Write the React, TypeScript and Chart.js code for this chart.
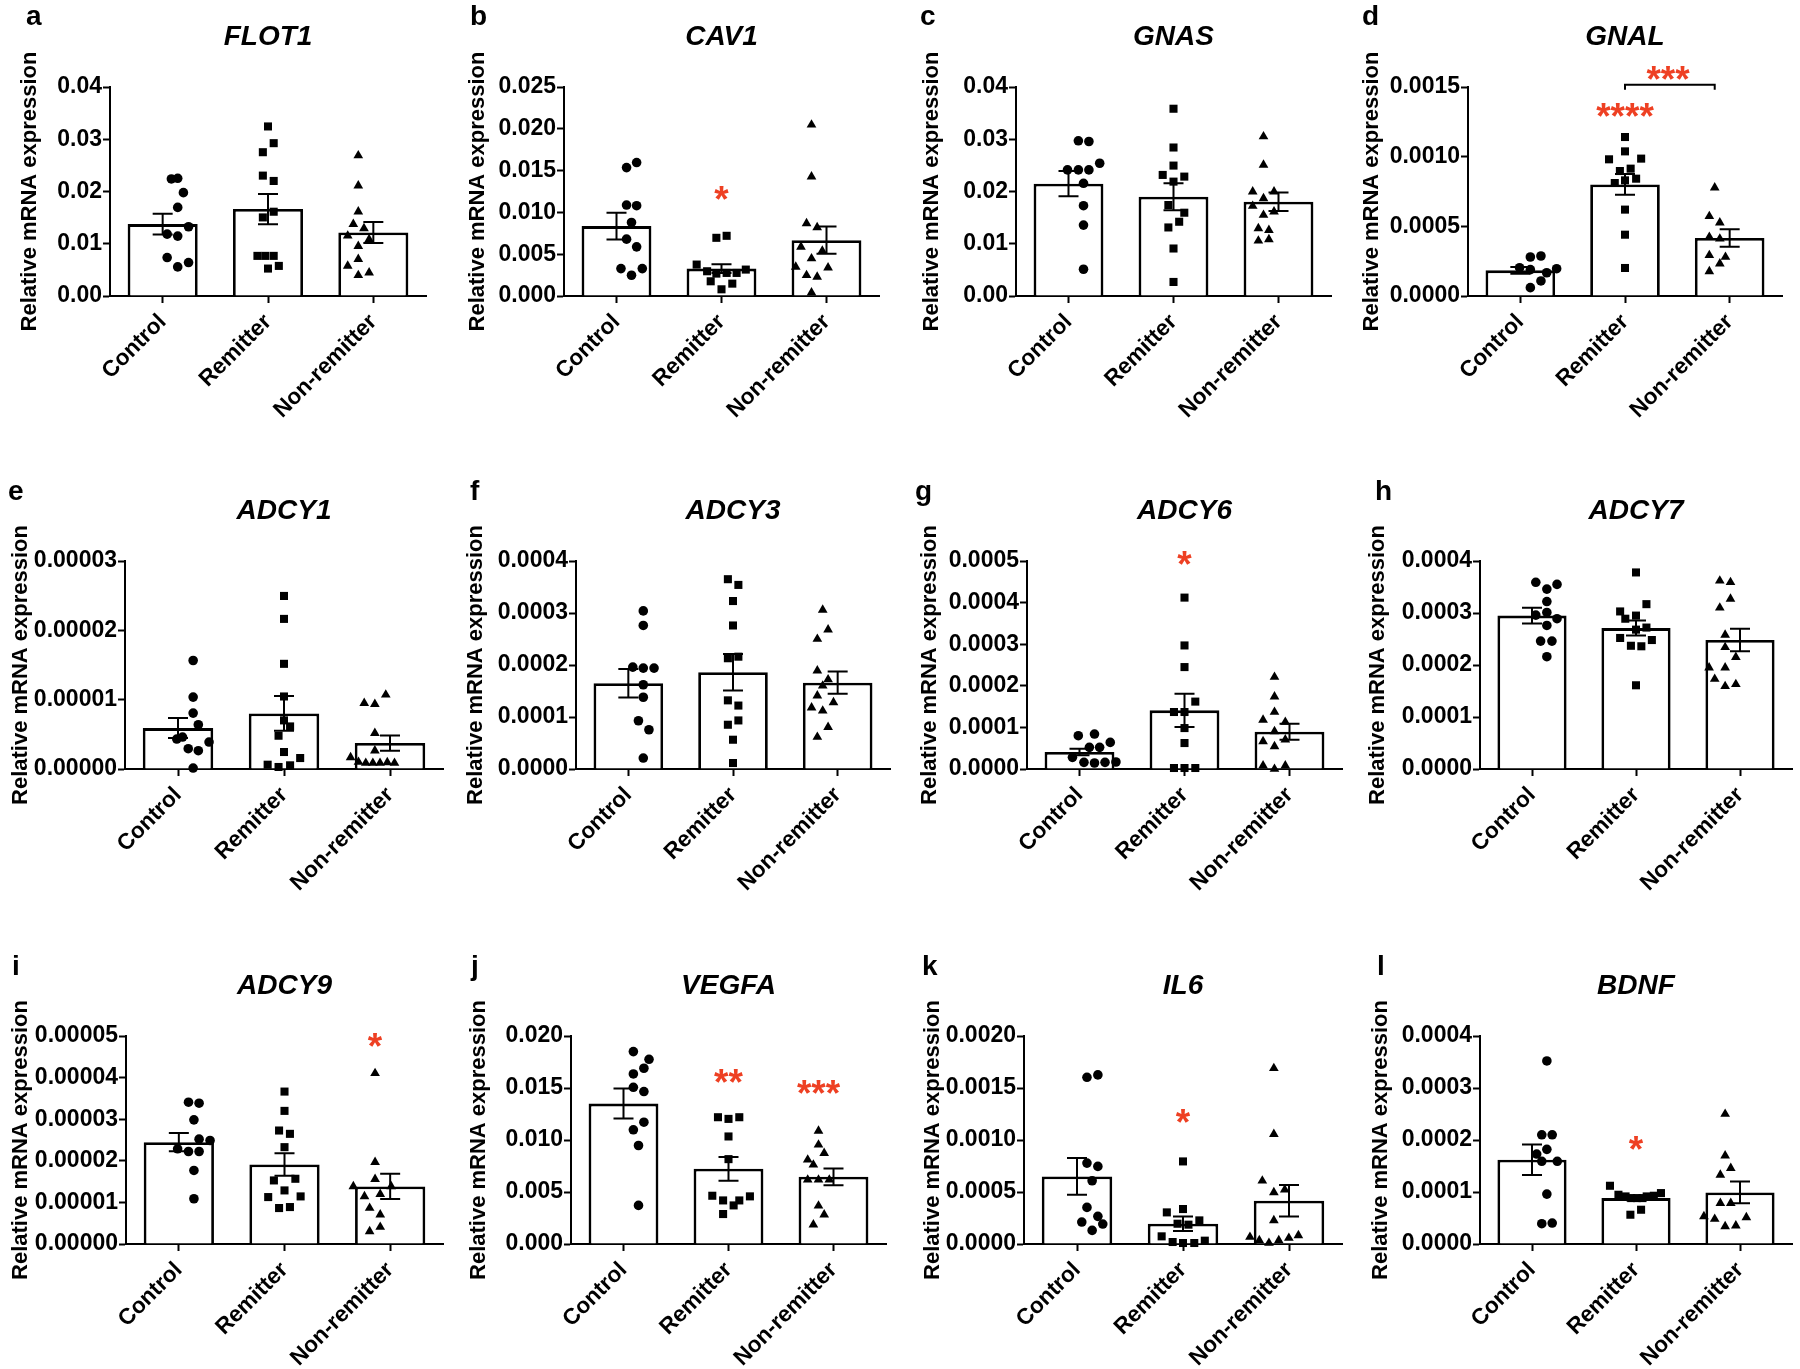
import React, { useEffect, useRef } from 'react';
import { Chart, registerables } from 'chart.js';

Chart.register(...registerables);

const FONT = "'Liberation Sans', Arial, Helvetica, sans-serif";
const RED = '#EE4023';
const GROUPS = ['Control', 'Remitter', 'Non-remitter'];
const Y_TITLE = 'Relative mRNA expression';

type Pt = [number, number]; // [horizontal jitter in category units, value]
type Mark = { x: number; y: number; text: string };

// ---------- a FLOT1 ----------
const FLOT1_TICKS = ['0.00', '0.01', '0.02', '0.03', '0.04'];
const FLOT1_MEAN = [0.01376, 0.01664, 0.01216];
const FLOT1_SEM = [0.002, 0.0029, 0.002];
const FLOT1_CONTROL: Pt[] = [[-0.07, 0.0224], [0, 0.02253], [0.063, 0.01978], [0, 0.01696], [-0.117, 0.01184], [0, 0.01146], [0.12, 0.01325], [-0.117, 0.00736], [0, 0.00557], [0.12, 0.0064]];
const FLOT1_REMITTER: Pt[] = [[0, 0.03245], [0.063, 0.02925], [-0.057, 0.02752], [-0.057, 0.02304], [0.063, 0.02202], [0.063, 0.01613], [-0.057, 0.01504], [-0.117, 0.00768], [-0.03, 0.00768], [0.063, 0.00768], [0, 0.00525], [0.12, 0.00576]];
const FLOT1_NONREMITTER: Pt[] = [[0, 0.02688], [0, 0.02112], [0, 0.01613], [-0.055, 0.01376], [0.063, 0.01293], [-0.117, 0.01152], [0.12, 0.01082], [0, 0.00954], [0, 0.00704], [-0.117, 0.00576], [0.12, 0.00448], [0, 0.00397]];
const FLOT1_MARKS: Mark[] = [];

// ---------- b CAV1 ----------
const CAV1_TICKS = ['0.000', '0.005', '0.010', '0.015', '0.020', '0.025'];
const CAV1_MEAN = [0.00836, 0.00328, 0.00668];
const CAV1_SEM = [0.0016, 0.00052, 0.00164];
const CAV1_CONTROL: Pt[] = [[-0.055, 0.01536], [0.057, 0.01596], [-0.055, 0.01088], [0.057, 0.0108], [0, 0.0088], [-0.055, 0.0068], [0.057, 0.00588], [-0.117, 0.00328], [0.12, 0.00328], [0, 0.00248]];
const CAV1_REMITTER: Pt[] = [[-0.057, 0.00696], [0.057, 0.0072], [-0.276, 0.00376], [-0.16, 0.00296], [-0.057, 0.00268], [0.057, 0.00276], [0.168, 0.00276], [0.27, 0.00316], [-0.12, 0.00176], [0.12, 0.00148], [0, 0.0008]];
const CAV1_NONREMITTER: Pt[] = [[0, 0.02048], [0, 0.01428], [-0.055, 0.00868], [0.063, 0.0082], [-0.117, 0.00588], [0.12, 0.0054], [0, 0.00448], [-0.175, 0.00348], [0.184, 0.0034], [-0.055, 0.00248], [0.063, 0.00228], [0, 0.0004]];
const CAV1_MARKS: Mark[] = [{ x: 1, y: 0.0126, text: '*' }];

// ---------- c GNAS ----------
const GNAS_TICKS = ['0.00', '0.01', '0.02', '0.03', '0.04'];
const GNAS_MEAN = [0.0215, 0.019, 0.01805];
const GNAS_SEM = [0.0024, 0.0026, 0.00176];
const GNAS_CONTROL: Pt[] = [[-0.057, 0.0297], [0.06, 0.02957], [-0.178, 0.02413], [-0.057, 0.02413], [0.06, 0.02413], [0.18, 0.02541], [0, 0.02157], [0, 0.01728], [0, 0.01357], [0, 0.00512]];
const GNAS_REMITTER: Pt[] = [[0, 0.03584], [0, 0.02842], [0, 0.02496], [-0.12, 0.02317], [0.12, 0.02285], [0, 0.02189], [-0.057, 0.01741], [0.12, 0.01594], [0.063, 0.01421], [-0.057, 0.01312], [0, 0.00909], [0, 0.00269]];
const GNAS_NONREMITTER: Pt[] = [[0, 0.03053], [0, 0.02509], [-0.12, 0.01997], [0.117, 0.01997], [0, 0.01869], [-0.12, 0.01722], [0.117, 0.01613], [0, 0.01549], [-0.057, 0.01293], [0.06, 0.01261], [-0.057, 0.01056], [0.06, 0.01082]];
const GNAS_MARKS: Mark[] = [];

// ---------- d GNAL ----------
const GNAL_TICKS = ['0.0000', '0.0005', '0.0010', '0.0015'];
const GNAL_MEAN = [0.000184, 0.000801, 0.000416];
const GNAL_SEM = [0.000024, 0.000075, 0.000063];
const GNAL_CONTROL: Pt[] = [[-0.055, 0.00028], [0.063, 0.000287], [-0.175, 0.000203], [-0.055, 0.000189], [0.127, 0.000167], [0.238, 0.000196], [0.063, 0.000108], [-0.055, 0.00006]];
const GNAL_REMITTER: Pt[] = [[0, 0.001141], [0, 0.001038], [-0.178, 0.000981], [0.18, 0.000986], [-0.057, 0.000897], [0.063, 0.000914], [-0.114, 0.000811], [0, 0.00083], [0.124, 0.000842], [0, 0.00062], [0, 0.00044], [0, 0.000201]];
const GNAL_NONREMITTER: Pt[] = [[0, 0.000778], [-0.06, 0.000572], [0.057, 0.000526], [-0.06, 0.000423], [0.057, 0.000411], [-0.06, 0.000292], [0.12, 0.00028], [0.057, 0.000232], [-0.06, 0.000177]];
const GNAL_MARKS: Mark[] = [{ x: 1, y: 0.001356, text: '****' }, { x: 1.48, y: 0.00162, text: '***' }];
const GNAL_BRACKET = { from: 1, to: 2, y: 0.001517 };

// ---------- e ADCY1 ----------
const ADCY1_TICKS = ['0.00000', '0.00001', '0.00002', '0.00003'];
const ADCY1_MEAN = [5.9e-6, 8.02e-6, 3.74e-6];
const ADCY1_SEM = [1.44e-6, 2.5e-6, 1.1e-6];
const ADCY1_CONTROL: Pt[] = [[0, 1.565e-5], [0, 1.037e-5], [0, 8.06e-6], [0.057, 6.38e-6], [-0.18, 4.32e-6], [-0.117, 4.61e-6], [0.175, 3.89e-6], [-0.054, 2.93e-6], [0.057, 2.64e-6], [0, 1.4e-7]];
const ADCY1_REMITTER: Pt[] = [[0, 2.496e-5], [0, 2.165e-5], [0, 1.517e-5], [0, 1.046e-5], [0, 7.01e-6], [0.067, 6.14e-6], [-0.06, 4.8e-6], [0, 2.45e-6], [0.178, 1.58e-6], [-0.18, 6.2e-7], [-0.06, 2.9e-7], [0.067, 5.3e-7]];
const ADCY1_NONREMITTER: Pt[] = [[-0.117, 9.5e-6], [0, 9.36e-6], [0.12, 1.07e-5], [0, 5.18e-6], [0, 2.64e-6], [-0.267, 1.68e-6], [-0.18, 1.0e-6], [-0.1, 8.6e-7], [-0.022, 8.6e-7], [0.057, 8.6e-7], [0.137, 9.6e-7], [0.216, 8.6e-7]];
const ADCY1_MARKS: Mark[] = [];

// ---------- f ADCY3 ----------
const ADCY3_TICKS = ['0.0000', '0.0001', '0.0002', '0.0003', '0.0004'];
const ADCY3_MEAN = [0.000165, 0.000186, 0.000166];
const ADCY3_SEM = [0.0000275, 0.000035, 0.0000215];
const ADCY3_CONTROL: Pt[] = [[0, 0.000304], [0, 0.000276], [-0.117, 0.000196], [0, 0.000194], [0.12, 0.000194], [0, 0.000162], [0, 0.000138], [-0.054, 0.0000928], [0.063, 0.0000755], [0, 0.0000211]];
const ADCY3_REMITTER: Pt[] = [[-0.057, 0.000365], [0.06, 0.000354], [0, 0.000323], [0, 0.000276], [-0.057, 0.000213], [0.06, 0.000216], [-0.057, 0.000132], [0.06, 0.000122], [-0.057, 0.0000851], [0.06, 0.0000934], [0, 0.0000563], [0, 0.0000115]];
const ADCY3_NONREMITTER: Pt[] = [[0, 0.000306], [0.06, 0.000268], [-0.06, 0.00025], [-0.06, 0.000189], [0.06, 0.000172], [0, 0.00016], [-0.06, 0.000141], [0.12, 0.000128], [-0.124, 0.000118], [0, 0.000112], [0.06, 0.0000806], [-0.06, 0.0000614]];
const ADCY3_MARKS: Mark[] = [];

// ---------- g ADCY6 ----------
const ADCY6_TICKS = ['0.0000', '0.0001', '0.0002', '0.0003', '0.0004', '0.0005'];
const ADCY6_MEAN = [0.0000408, 0.000141, 0.0000896];
const ADCY6_SEM = [0.000008, 0.00004, 0.000019];
const ADCY6_CONTROL: Pt[] = [[-0.18, 0.00008], [0, 0.000084], [-0.057, 0.000052], [0.057, 0.000052], [0.175, 0.000064], [-0.245, 0.000028], [-0.117, 0.000016], [0, 0.0000144], [0.117, 0.000016], [0.238, 0.0000168]];
const ADCY6_REMITTER: Pt[] = [[0, 0.000412], [0, 0.000297], [0, 0.000245], [0.12, 0.000162], [-0.117, 0.000137], [0, 0.000137], [0, 0.0000984], [0, 0.0000624], [-0.117, 0.0000024], [0, 0.0000024], [0.12, 0.0000024]];
const ADCY6_NONREMITTER: Pt[] = [[0, 0.000221], [0, 0.000174], [0, 0.000137], [-0.127, 0.000118], [0.12, 0.000113], [0, 0.0000904], [-0.127, 0.0000664], [0.12, 0.0000704], [0, 0.0000544], [-0.127, 0.000008], [0.12, 0.000008], [0, 0]];
const ADCY6_MARKS: Mark[] = [{ x: 1, y: 0.000514, text: '*' }];

// ---------- h ADCY7 ----------
const ADCY7_TICKS = ['0.0000', '0.0001', '0.0002', '0.0003', '0.0004'];
const ADCY7_MEAN = [0.000295, 0.000271, 0.000248];
const ADCY7_SEM = [0.000015, 0.0000145, 0.0000215];
const ADCY7_CONTROL: Pt[] = [[-0.124, 0.000359], [0, 0.000346], [0.114, 0.000355], [0, 0.000322], [-0.124, 0.000296], [0, 0.000301], [0.114, 0.000289], [0, 0.000276], [-0.07, 0.000246], [0.057, 0.000246], [0, 0.000216]];
const ADCY7_REMITTER: Pt[] = [[0, 0.000378], [0.117, 0.000317], [-0.178, 0.000303], [0, 0.000295], [-0.12, 0.000289], [0.117, 0.000272], [0, 0.000268], [-0.178, 0.000252], [0.178, 0.000248], [-0.057, 0.000237], [0.06, 0.000236], [0, 0.000161]];
const ADCY7_NONREMITTER: Pt[] = [[-0.06, 0.000362], [0.06, 0.000359], [0.06, 0.000327], [-0.06, 0.00031], [0, 0.000258], [0, 0.000234], [0.12, 0.000215], [-0.18, 0.000195], [0, 0.000195], [0.12, 0.000163], [-0.117, 0.000173], [0, 0.000159]];
const ADCY7_MARKS: Mark[] = [];

// ---------- i ADCY9 ----------
const ADCY9_TICKS = ['0.00000', '0.00001', '0.00002', '0.00003', '0.00004', '0.00005'];
const ADCY9_MEAN = [2.448e-5, 1.912e-5, 1.384e-5];
const ADCY9_SEM = [2.2e-6, 2.7e-6, 3.04e-6];
const ADCY9_CONTROL: Pt[] = [[-0.06, 3.408e-5], [0.057, 3.384e-5], [0, 2.984e-5], [-0.18, 2.288e-5], [-0.06, 2.224e-5], [0.057, 2.52e-5], [0.178, 2.488e-5], [0.057, 2.224e-5], [0, 1.768e-5], [0, 1.088e-5]];
const ADCY9_REMITTER: Pt[] = [[0, 3.664e-5], [0, 3.2e-5], [-0.06, 2.728e-5], [0.06, 2.648e-5], [0, 2.328e-5], [-0.117, 1.528e-5], [0.12, 1.568e-5], [0, 1.288e-5], [-0.18, 1.128e-5], [0.178, 1.144e-5], [-0.06, 8.64e-6], [0.06, 8.88e-6]];
const ADCY9_NONREMITTER: Pt[] = [[0, 4.104e-5], [0, 1.968e-5], [0, 1.56e-5], [-0.24, 1.384e-5], [0.178, 1.384e-5], [-0.117, 1.144e-5], [0.057, 1.2e-5], [-0.06, 8.64e-6], [0.057, 7.04e-6], [-0.06, 3.04e-6], [0.057, 4.08e-6]];
const ADCY9_MARKS: Mark[] = [{ x: 2, y: 4.97e-5, text: '*' }];

// ---------- j VEGFA ----------
const VEGFA_TICKS = ['0.000', '0.005', '0.010', '0.015', '0.020'];
const VEGFA_MEAN = [0.0135, 0.00723, 0.00646];
const VEGFA_SEM = [0.00144, 0.00114, 0.0008];
const VEGFA_CONTROL: Pt[] = [[-0.057, 0.0185], [0.117, 0.01776], [-0.057, 0.01635], [0.06, 0.0169], [-0.057, 0.01507], [0.06, 0.01466], [0.06, 0.01171], [-0.057, 0.01098], [0, 0.00947], [0, 0.00371]];
const VEGFA_REMITTER: Pt[] = [[-0.117, 0.01219], [0, 0.01203], [0.12, 0.01219], [0, 0.01034], [0, 0.00816], [-0.18, 0.00464], [-0.06, 0.00419], [0.057, 0.00371], [0.12, 0.00419], [0.238, 0.00458], [-0.06, 0.00288]];
const VEGFA_NONREMITTER: Pt[] = [[0, 0.01088], [0, 0.00954], [0.063, 0.00874], [-0.12, 0.0081], [-0.057, 0.00762], [-0.12, 0.00618], [0, 0.00618], [0.12, 0.00618], [0, 0.00368], [0.063, 0.00282], [-0.057, 0.00186]];
const VEGFA_MARKS: Mark[] = [{ x: 1, y: 0.01642, text: '**' }, { x: 2, y: 0.0153, text: '***' }];

// ---------- k IL6 ----------
const IL6_TICKS = ['0.0000', '0.0005', '0.0010', '0.0015', '0.0020'];
const IL6_MEAN = [0.00065, 0.000195, 0.000416];
const IL6_SEM = [0.000176, 0.000069, 0.000152];
const IL6_CONTROL: Pt[] = [[-0.057, 0.001603], [0.063, 0.001626], [-0.057, 0.000778], [0.063, 0.000746], [0, 0.000608], [-0.057, 0.000352], [0.063, 0.000266], [-0.114, 0.000211], [0.117, 0.000192], [0, 0.000131]];
const IL6_REMITTER: Pt[] = [[0, 0.000794], [-0.178, 0.000304], [0, 0.000336], [-0.06, 0.000195], [0.06, 0.000186], [0.18, 0.000227], [-0.235, 0.0000736], [-0.114, 0.0000192], [0, 0.0000096], [0.124, 0.0000096], [0.24, 0.000032]];
const IL6_NONREMITTER: Pt[] = [[0, 0.00169], [0, 0.001056], [-0.127, 0.000608], [0, 0.000496], [0.12, 0.000522], [0, 0.000227], [-0.263, 0.0000672], [-0.16, 0.0000352], [-0.054, 0.0000096], [0.054, 0.0000352], [0.165, 0.0000576], [0.27, 0.0000832]];
const IL6_MARKS: Mark[] = [{ x: 1, y: 0.00125, text: '*' }];

// ---------- l BDNF ----------
const BDNF_TICKS = ['0.0000', '0.0001', '0.0002', '0.0003', '0.0004'];
const BDNF_MEAN = [0.000162, 0.0000883, 0.0000992];
const BDNF_SEM = [0.0000295, 0.000004, 0.000021];
const BDNF_CONTROL: Pt[] = [[0, 0.000352], [-0.057, 0.00021], [0.06, 0.00021], [-0.114, 0.000173], [0, 0.000182], [-0.057, 0.000159], [0.117, 0.000159], [0, 0.000096], [-0.057, 0.000039], [0.06, 0.0000403]];
const BDNF_REMITTER: Pt[] = [[-0.292, 0.000112], [-0.197, 0.0000947], [-0.117, 0.0000915], [-0.054, 0.0000883], [0.01, 0.0000883], [0.073, 0.0000883], [0.12, 0.0000915], [0.2, 0.0000928], [0.28, 0.0000979], [-0.063, 0.0000563], [0.057, 0.0000659]];
const BDNF_NONREMITTER: Pt[] = [[0, 0.00025], [0, 0.00017], [-0.054, 0.000133], [0.063, 0.000146], [-0.054, 0.0000787], [0.063, 0.0000787], [-0.238, 0.0000531], [-0.117, 0.000048], [0, 0.0000339], [0.12, 0.0000352], [0.238, 0.0000512]];
const BDNF_MARKS: Mark[] = [{ x: 1, y: 0.000199, text: '*' }];

type PanelData = {
  letter: string;
  gene: string;
  ticks: string[];
  mean: number[];
  sem: number[];
  groups: Pt[][];
  marks: Mark[];
  bracket?: { from: number; to: number; y: number };
};

const PANELS: PanelData[] = [
  { letter: 'a', gene: 'FLOT1', ticks: FLOT1_TICKS, mean: FLOT1_MEAN, sem: FLOT1_SEM, groups: [FLOT1_CONTROL, FLOT1_REMITTER, FLOT1_NONREMITTER], marks: FLOT1_MARKS },
  { letter: 'b', gene: 'CAV1', ticks: CAV1_TICKS, mean: CAV1_MEAN, sem: CAV1_SEM, groups: [CAV1_CONTROL, CAV1_REMITTER, CAV1_NONREMITTER], marks: CAV1_MARKS },
  { letter: 'c', gene: 'GNAS', ticks: GNAS_TICKS, mean: GNAS_MEAN, sem: GNAS_SEM, groups: [GNAS_CONTROL, GNAS_REMITTER, GNAS_NONREMITTER], marks: GNAS_MARKS },
  { letter: 'd', gene: 'GNAL', ticks: GNAL_TICKS, mean: GNAL_MEAN, sem: GNAL_SEM, groups: [GNAL_CONTROL, GNAL_REMITTER, GNAL_NONREMITTER], marks: GNAL_MARKS, bracket: GNAL_BRACKET },
  { letter: 'e', gene: 'ADCY1', ticks: ADCY1_TICKS, mean: ADCY1_MEAN, sem: ADCY1_SEM, groups: [ADCY1_CONTROL, ADCY1_REMITTER, ADCY1_NONREMITTER], marks: ADCY1_MARKS },
  { letter: 'f', gene: 'ADCY3', ticks: ADCY3_TICKS, mean: ADCY3_MEAN, sem: ADCY3_SEM, groups: [ADCY3_CONTROL, ADCY3_REMITTER, ADCY3_NONREMITTER], marks: ADCY3_MARKS },
  { letter: 'g', gene: 'ADCY6', ticks: ADCY6_TICKS, mean: ADCY6_MEAN, sem: ADCY6_SEM, groups: [ADCY6_CONTROL, ADCY6_REMITTER, ADCY6_NONREMITTER], marks: ADCY6_MARKS },
  { letter: 'h', gene: 'ADCY7', ticks: ADCY7_TICKS, mean: ADCY7_MEAN, sem: ADCY7_SEM, groups: [ADCY7_CONTROL, ADCY7_REMITTER, ADCY7_NONREMITTER], marks: ADCY7_MARKS },
  { letter: 'i', gene: 'ADCY9', ticks: ADCY9_TICKS, mean: ADCY9_MEAN, sem: ADCY9_SEM, groups: [ADCY9_CONTROL, ADCY9_REMITTER, ADCY9_NONREMITTER], marks: ADCY9_MARKS },
  { letter: 'j', gene: 'VEGFA', ticks: VEGFA_TICKS, mean: VEGFA_MEAN, sem: VEGFA_SEM, groups: [VEGFA_CONTROL, VEGFA_REMITTER, VEGFA_NONREMITTER], marks: VEGFA_MARKS },
  { letter: 'k', gene: 'IL6', ticks: IL6_TICKS, mean: IL6_MEAN, sem: IL6_SEM, groups: [IL6_CONTROL, IL6_REMITTER, IL6_NONREMITTER], marks: IL6_MARKS },
  { letter: 'l', gene: 'BDNF', ticks: BDNF_TICKS, mean: BDNF_MEAN, sem: BDNF_SEM, groups: [BDNF_CONTROL, BDNF_REMITTER, BDNF_NONREMITTER], marks: BDNF_MARKS },
];

// ---------- layout (pixels) ----------
const COL_LEFT = [0, 453, 907, 1355];
const COL_W = [453, 454, 448, 445];
const ROW_TOP = [0, 475, 950];
const ROW_H = [475, 475, 419];
const PLOT_TOP = [87, 86, 86];
const PLOT_BOTTOM = [296, 294, 294];

// per panel: local y-axis x, local right end, y-title centre x, letter x
const LAYOUT = [
  { axisX: 110, right: 426, titleX: 30, letterX: 26 },
  { axisX: 111, right: 426, titleX: 25, letterX: 17 },
  { axisX: 109, right: 424, titleX: 25, letterX: 13 },
  { axisX: 113, right: 427, titleX: 17, letterX: 7 },
  { axisX: 125, right: 443, titleX: 21, letterX: 8 },
  { axisX: 123, right: 437, titleX: 22.5, letterX: 17 },
  { axisX: 120, right: 435, titleX: 22.5, letterX: 8 },
  { axisX: 125, right: 437, titleX: 22.5, letterX: 20 },
  { axisX: 126, right: 443, titleX: 20.5, letterX: 12 },
  { axisX: 118, right: 433, titleX: 25.5, letterX: 18 },
  { axisX: 117, right: 435, titleX: 25.5, letterX: 15 },
  { axisX: 125, right: 437, titleX: 25.5, letterX: 22 },
];

const TICK_SIZE = 23;
const TITLE_SIZE = 22;
const XLABEL_SIZE = 22.5;
const STAR_SIZE = 37;
const SHAPES = ['circle', 'rect', 'triangle'];
const RADII = [4.8, 5.7, 5.6];

function Panel({ index }: { index: number }) {
  const ref = useRef<HTMLCanvasElement>(null);
  const d = PANELS[index];
  const l = LAYOUT[index];
  const col = index % 4;
  const row = Math.floor(index / 4);
  const W = COL_W[col];
  const H = ROW_H[row];

  useEffect(() => {
    const canvas = ref.current;
    if (!canvas) return;
    const top = PLOT_TOP[row];
    const bottom = PLOT_BOTTOM[row];
    const lineH = TITLE_SIZE * 1.2;
    const padL = Math.max(0, l.titleX - lineH / 2);
    const tickVals = d.ticks.map((t) => parseFloat(t));
    const ymax = tickVals[tickVals.length - 1];

    const datasets: any[] = [
      {
        type: 'bar',
        data: d.mean,
        xAxisID: 'x',
        yAxisID: 'y',
        backgroundColor: '#ffffff',
        borderColor: '#000000',
        borderWidth: 2.8,
        borderSkipped: 'bottom',
        grouped: false,
        barPercentage: 0.665,
        categoryPercentage: 1,
        order: 10,
      },
      ...d.groups.map((g, gi) => ({
        type: 'scatter',
        data: g.map(([dx, v]) => ({ x: gi + dx, y: v })),
        xAxisID: 'xs',
        yAxisID: 'y',
        pointStyle: SHAPES[gi],
        pointRadius: RADII[gi],
        backgroundColor: '#000000',
        borderColor: '#000000',
        borderWidth: 0,
        showLine: false,
        clip: false,
        order: 0,
      })),
    ];

    const overlay = {
      id: 'overlay',
      afterDatasetsDraw(chart: any) {
        const ctx = chart.ctx;
        const xs = chart.scales.x;
        const ys = chart.scales.y;
        ctx.save();
        ctx.strokeStyle = '#000';
        ctx.lineWidth = 2;
        d.mean.forEach((m, i) => {
          const x = xs.getPixelForValue(i);
          const yT = ys.getPixelForValue(m + d.sem[i]);
          const yB = ys.getPixelForValue(m - d.sem[i]);
          ctx.beginPath();
          ctx.moveTo(x, yT);
          ctx.lineTo(x, yB);
          ctx.moveTo(x - 10, yT);
          ctx.lineTo(x + 10, yT);
          ctx.moveTo(x - 10, yB);
          ctx.lineTo(x + 10, yB);
          ctx.stroke();
        });
        ctx.restore();
      },
      afterDraw(chart: any) {
        const ctx = chart.ctx;
        const area = chart.chartArea;
        const xs = chart.scales.xs;
        const ys = chart.scales.y;
        ctx.save();
        ctx.fillStyle = '#000';
        ctx.textBaseline = 'alphabetic';
        ctx.textAlign = 'left';
        ctx.font = `bold 28px ${FONT}`;
        ctx.fillText(d.letter, l.letterX, 25);
        ctx.textAlign = 'center';
        ctx.font = `italic bold 28px ${FONT}`;
        ctx.fillText(d.gene, (area.left + area.right) / 2, top - 42);
        ctx.fillStyle = RED;
        ctx.font = `bold ${STAR_SIZE}px ${FONT}`;
        d.marks.forEach((mk) => {
          ctx.fillText(mk.text, xs.getPixelForValue(mk.x), ys.getPixelForValue(mk.y) + STAR_SIZE * 0.58);
        });
        if (d.bracket) {
          const x1 = xs.getPixelForValue(d.bracket.from);
          const x2 = xs.getPixelForValue(d.bracket.to);
          const y = ys.getPixelForValue(d.bracket.y);
          ctx.strokeStyle = '#000';
          ctx.lineWidth = 2;
          ctx.beginPath();
          ctx.moveTo(x1, y + 5);
          ctx.lineTo(x1, y);
          ctx.lineTo(x2, y);
          ctx.lineTo(x2, y + 5);
          ctx.stroke();
        }
        ctx.restore();
      },
    };

    const chart = new Chart(canvas, {
      type: 'bar',
      data: { labels: GROUPS, datasets },
      options: {
        responsive: false,
        animation: false,
        devicePixelRatio: 1,
        events: [],
        layout: { padding: { left: padL, top, right: W - l.right, bottom: 0 } },
        plugins: { legend: { display: false }, tooltip: { enabled: false }, title: { display: false } },
        scales: {
          x: {
            type: 'category',
            offset: true,
            position: 'bottom',
            grid: { display: true, drawOnChartArea: false, drawTicks: true, tickLength: 7, tickWidth: 2, tickColor: '#000', offset: false },
            border: { display: true, color: '#000', width: 2 },
            ticks: {
              color: '#000',
              font: { family: FONT, size: XLABEL_SIZE, weight: 'bold' },
              minRotation: 45,
              maxRotation: 45,
              autoSkip: false,
              padding: 6,
            },
            afterFit: (s: any) => {
              s.height = H - bottom;
            },
          },
          xs: { type: 'linear', display: false, min: -0.5, max: 2.5, position: 'bottom' },
          y: {
            type: 'linear',
            min: 0,
            max: ymax,
            afterBuildTicks: (s: any) => {
              s.ticks = tickVals.map((v) => ({ value: v }));
            },
            grid: { display: true, drawOnChartArea: false, drawTicks: true, tickLength: 7, tickWidth: 2, tickColor: '#000' },
            border: { display: true, color: '#000', width: 2 },
            ticks: {
              color: '#000',
              font: { family: FONT, size: TICK_SIZE, weight: 'bold' },
              padding: 1,
              callback: (_v: any, i: number) => d.ticks[i],
            },
            title: {
              display: true,
              text: Y_TITLE,
              color: '#000',
              font: { family: FONT, size: TITLE_SIZE, weight: 'bold' },
              padding: { top: 0, bottom: 0 },
            },
            afterFit: (s: any) => {
              s.width = l.axisX - padL;
            },
          },
        },
      } as any,
      plugins: [overlay],
    });
    return () => chart.destroy();
  }, []);

  return (
    <canvas
      ref={ref}
      width={W}
      height={H}
      style={{ position: 'absolute', left: COL_LEFT[col], top: ROW_TOP[row], width: W, height: H }}
    />
  );
}

export default function App() {
  return (
    <div style={{ position: 'absolute', left: 0, top: 0, width: 1800, height: 1369, background: '#ffffff', overflow: 'hidden' }}>
      {PANELS.map((_, i) => (
        <Panel key={i} index={i} />
      ))}
    </div>
  );
}
